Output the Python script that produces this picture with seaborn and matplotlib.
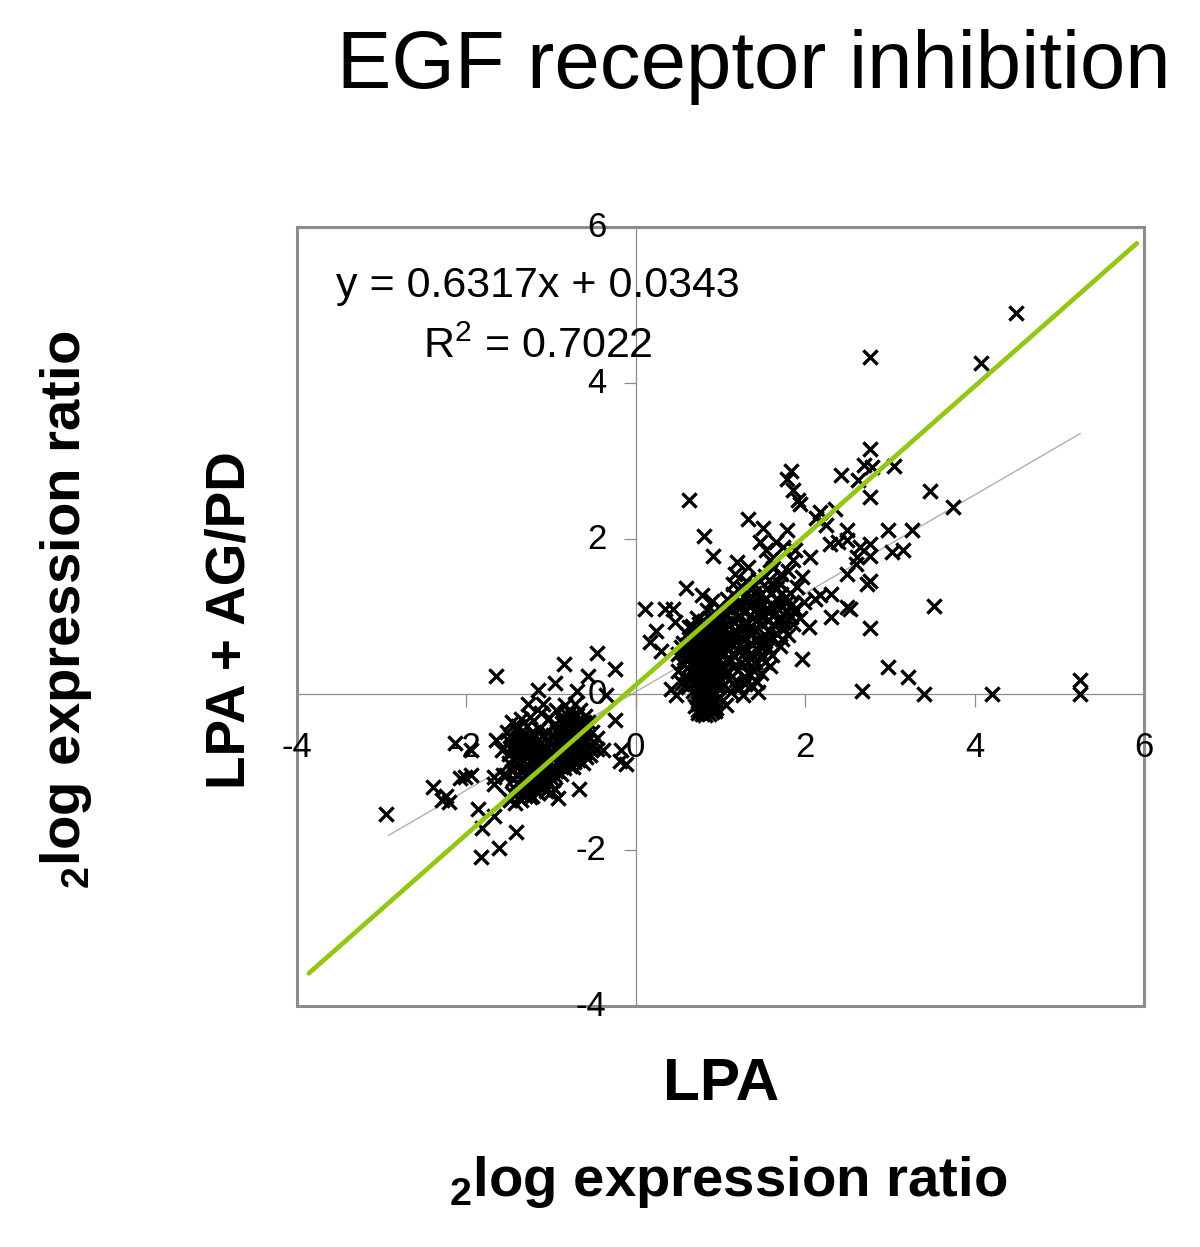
import matplotlib
matplotlib.use("Agg")
import matplotlib.pyplot as plt
from matplotlib.patches import Rectangle
from matplotlib.transforms import ScaledTranslation
import seaborn as sns
import pandas as pd

sns.set_theme(style="white")
plt.rcParams['font.family'] = ['Liberation Sans', 'DejaVu Sans']
plt.rcParams['axes.unicode_minus'] = False
plt.rcParams['mathtext.fontset'] = 'custom'
plt.rcParams['mathtext.rm'] = 'Liberation Sans'
plt.rcParams['mathtext.bf'] = 'Liberation Sans:bold'

title = "EGF receptor inhibition"
equation = "y = 0.6317x + 0.0343"
r_squared = "R$^{2}$ = 0.7022"
x_ticks = [-4, -2, 0, 2, 4, 6]
y_ticks = [-4, -2, 0, 2, 4, 6]

fit_x = [-2.92, 5.25]
fit_y = [-1.81, 3.35]
identity_x = [-3.86, 5.915]
identity_y = [-3.58, 5.79]

outlier_points = [
    (4.49,4.90),(4.07,4.25),(2.77,4.33),(2.77,3.15),(2.70,2.94),(2.79,2.92),(2.42,2.82),(2.62,2.75),(3.05,2.93),
    (2.77,2.53),(3.47,2.61),(3.75,2.40),(3.26,2.11),(2.98,2.11),(3.15,1.86),(3.02,1.83),(3.52,1.14),(2.76,0.85),
    (2.98,0.35),(3.21,0.22),(2.67,0.04),(3.40,0.0),(4.2,0.0),(5.25,0.18),(5.25,0.0),(0.63,2.50),
]
upper_points = [
    (1.83,2.87),(1.78,2.76),(1.86,2.62),(1.94,2.45),(1.92,2.49),(2.17,2.34),(2.35,2.38),(2.24,2.17),(2.13,2.26),
    (1.33,2.25),(1.50,2.14),(1.79,2.11),(0.80,2.03),(0.91,1.78),(1.47,1.96),(1.54,1.85),(1.66,1.96),(1.74,1.89),
    (1.88,1.85),(2.06,1.76),(1.86,1.72),(1.19,1.70),(1.33,1.64),(1.17,1.55),(1.15,1.42),(2.49,2.11),(2.49,1.98),
    (2.29,1.93),(2.39,1.96),(2.76,1.93),(2.65,1.89),(2.76,1.78),(2.61,1.76),(2.6,1.68),(2.49,1.55),(2.73,1.42),
    (1.96,1.51),(2.31,1.29),(2.11,1.23),(2.31,1.0),(2.49,1.12),(2.53,1.10),(2.77,1.45),(1.96,0.46),(2.04,0.86),
    (0.59,1.36),(0.11,1.10),(0.34,1.10),(0.44,1.10),(0.78,1.27),(0.24,0.81),(0.17,0.67),(0.30,0.56),(0.46,0.93),
    (2.18,1.28),(1.98,1.18),(1.62,1.62),(1.72,1.55),(1.80,1.58),(1.58,1.72),(1.44,1.48),(1.52,1.52),(1.90,1.38),
    (1.70,1.42),(1.82,1.30),(1.60,1.30),(1.40,1.30),(1.30,1.45),(1.24,1.32),(0.90,1.20),(0.98,1.12),(1.08,1.22),
]
right_cluster = [
    (0.78,-0.25),(0.82,-0.27),(0.86,-0.25),(0.74,-0.20),(0.90,-0.22),(0.80,-0.18),(0.70,-0.15),(0.95,-0.18),
    (0.84,-0.12),(0.76,-0.08),(0.88,-0.05),(0.72,-0.03),(0.80,0.00),(0.92,0.02),(0.68,0.05),(0.84,0.06),
    (0.76,0.10),(0.62,0.10),(0.42,0.07),(0.48,-0.01),(1.07,-0.14),(0.99,-0.03),(1.27,-0.01),(1.44,0.03),
    (1.43,0.16),(1.33,0.27),(1.58,0.37),(1.12,0.03),(1.22,0.08),(1.36,0.12),(0.55,0.14),(0.58,0.22),
    (0.50,0.30),(0.64,0.30),(0.72,0.18),(0.80,0.22),(0.88,0.16),(0.96,0.10),(1.04,0.12),(1.10,0.20),
    (1.18,0.18),(1.28,0.22),(1.40,0.30),(1.48,0.28),(1.52,0.42),(0.54,0.40),(0.62,0.44),(0.70,0.36),
    (0.78,0.32),(0.86,0.30),(0.94,0.26),(1.00,0.34),(1.08,0.30),(1.16,0.36),(1.24,0.40),(1.32,0.42),
    (0.50,0.52),(0.58,0.56),(0.66,0.52),(0.74,0.46),(0.82,0.42),(0.90,0.40),(0.98,0.46),(1.06,0.44),
    (1.14,0.52),(1.22,0.54),(1.30,0.56),(1.38,0.50),(1.46,0.56),(1.56,0.60),(0.56,0.66),(0.64,0.66),
    (0.72,0.60),(0.80,0.56),(0.88,0.52),(0.96,0.58),(1.04,0.62),(1.12,0.66),(1.20,0.68),(1.28,0.70),
    (1.36,0.66),(1.44,0.70),(1.52,0.76),(1.62,0.72),(1.70,0.62),(0.60,0.78),(0.68,0.76),(0.76,0.70),
    (0.84,0.66),(0.92,0.70),(1.00,0.74),(1.08,0.78),(1.16,0.82),(1.24,0.84),(1.32,0.80),(1.40,0.84),
    (1.48,0.90),(1.56,0.94),(1.64,0.88),(1.74,0.84),(1.80,0.76),(1.86,0.90),(0.66,0.88),(0.74,0.84),
    (0.82,0.80),(0.90,0.84),(0.98,0.88),(1.06,0.92),(1.14,0.96),(1.22,0.98),(1.30,0.94),(1.38,0.98),
    (1.46,1.04),(1.54,1.08),(1.62,1.02),(1.70,1.00),(1.78,1.06),(1.88,1.10),(1.94,0.98),(0.72,0.98),
    (0.80,0.94),(0.88,0.98),(0.96,1.02),(1.04,1.06),(1.12,1.10),(1.20,1.12),(1.28,1.08),(1.36,1.14),
    (1.44,1.18),(1.52,1.22),(1.60,1.16),(1.68,1.20),(1.76,1.24),(1.84,1.16),(0.84,1.08),(0.70,0.50),
    (0.74,0.58),(0.78,0.64),(0.82,0.50),(0.86,0.60),(0.70,0.68),(0.76,0.40),(0.80,0.46),(0.84,0.36),
    (0.88,0.44),(0.72,0.28),(0.78,0.14),(0.82,0.28),(0.86,0.10),(0.74,0.04),(0.90,0.12),(0.68,0.42),
    (0.92,0.54),(0.94,0.34),(0.66,0.60),(0.64,0.20),(0.60,0.34),(0.96,0.62),(0.98,0.20),(1.02,0.52),
    (0.90,-0.10),(0.82,-0.20),(0.78,-0.10),(0.86,-0.16),(0.74,-0.12),(0.94,-0.08),(0.96,0.70),(1.10,0.58),
]
right_cluster_extra = [
    (0.57,0.47),(0.61,0.63),(0.67,0.27),(0.71,0.81),(0.73,0.11),(0.75,0.53),(0.77,0.37),(0.79,0.73),
    (0.81,0.09),(0.83,0.59),(0.85,0.47),(0.87,0.77),(0.89,0.23),(0.91,0.63),(0.93,0.43),(0.95,0.79),
    (0.97,0.13),(0.99,0.55),(1.01,0.37),(1.03,0.83),(1.05,0.23),(1.07,0.67),(1.09,0.41),(1.11,0.89),
    (0.53,0.61),(0.59,0.13),(0.63,0.87),(0.69,0.13),(0.65,0.39),(0.75,0.91),(0.79,0.27),(0.83,0.87),
    (0.87,0.37),(0.91,0.93),(0.95,0.47),(0.99,0.97),(1.03,0.31),(1.07,1.01),(1.11,0.45),(1.15,0.73),
    (0.73,0.33),(0.77,0.51),(0.81,0.67),(0.85,0.21),(0.89,0.57),(0.79,0.41),(0.75,0.67),(0.71,0.43),
    (0.83,0.17),(0.87,-0.09),(0.79,-0.23),(0.91,-0.15),(0.77,-0.02),(0.85,-0.02),(0.93,-0.21),(0.73,-0.24),
    (1.17,0.11),(1.21,0.31),(1.25,0.59),(1.29,0.13),(1.33,0.49),(1.37,0.77),(1.41,0.41),(1.45,0.63),
    (1.49,0.47),(1.53,0.69),(1.57,0.83),(1.61,0.51),(1.65,0.79),(1.69,0.93),(1.73,0.71),(1.77,1.17),
    (1.19,0.75),(1.23,1.11),(1.27,0.89),(1.31,1.21),(1.35,0.87),(1.39,1.07),(1.43,0.95),(1.47,1.27),
    (1.51,1.01),(1.55,1.37),(1.59,1.07),(1.63,1.41),(1.67,1.11),(1.71,1.29),(1.75,0.93),(1.83,0.99),
    (1.15,1.29),(1.21,1.19),(1.27,1.37),(1.35,1.23),(1.41,1.41),(1.49,1.13),(1.57,1.47),(1.65,1.35),
]
left_points = [
    (-2.95,-1.54),(-1.65,0.24),(-0.85,0.39),(-0.46,0.53),(-0.24,0.32),(-0.56,0.24),(-0.95,0.14),(-1.16,0.06),
    (-0.70,0.05),(-0.35,-0.01),(-1.27,-0.12),(-1.09,-0.12),(-0.25,-0.33),(-2.14,-0.62),(-1.94,-0.72),(-1.65,-0.58),
    (-0.39,-0.72),(-0.18,-0.72),(-0.19,-0.85),(-0.11,-0.89),(-2.39,-1.19),(-1.94,-1.04),(-2.08,-1.07),(-2.02,-1.06),
    (-2.24,-1.30),(-2.29,-1.36),(-2.20,-1.38),(-1.86,-1.47),(-1.68,-1.56),(-1.82,-1.72),(-1.41,-1.76),(-1.61,-1.97),
    (-1.83,-2.09),(-0.67,-1.22),(-0.92,-1.33),(-0.74,-0.93),(-1.68,-1.06),(-1.68,-1.15),(-1.57,-1.04),(-1.49,-1.36),
    (-1.43,-1.40),(-1.25,-1.32),(-1.02,-1.15),
]
left_cluster = [
    (-1.46,-0.36),(-1.36,-0.32),(-1.28,-0.40),(-1.52,-0.48),(-1.42,-0.46),(-1.32,-0.52),(-1.22,-0.48),(-1.12,-0.24),
    (-1.02,-0.30),(-0.94,-0.20),(-0.84,-0.14),(-0.78,-0.22),(-0.72,-0.12),(-0.66,-0.20),(-0.60,-0.28),(-0.88,-0.30),
    (-0.80,-0.34),(-0.74,-0.28),(-0.68,-0.34),(-0.62,-0.42),(-0.56,-0.36),(-0.52,-0.48),(-0.46,-0.56),(-0.96,-0.40),
    (-0.88,-0.44),(-0.82,-0.42),(-0.76,-0.46),(-0.70,-0.50),(-0.64,-0.56),(-0.58,-0.60),(-0.52,-0.66),(-0.46,-0.70),
    (-1.14,-0.44),(-1.06,-0.48),(-0.98,-0.52),(-0.92,-0.58),(-0.84,-0.56),(-0.78,-0.60),(-0.72,-0.64),(-0.66,-0.70),
    (-0.60,-0.74),(-0.54,-0.78),(-1.50,-0.60),(-1.44,-0.58),(-1.38,-0.62),(-1.30,-0.60),(-1.24,-0.64),(-1.16,-0.60),
    (-1.08,-0.66),(-1.00,-0.64),(-0.94,-0.70),(-0.86,-0.72),(-0.80,-0.74),(-0.74,-0.80),(-0.68,-0.84),(-0.62,-0.88),
    (-1.58,-0.72),(-1.50,-0.76),(-1.44,-0.72),(-1.38,-0.76),(-1.32,-0.72),(-1.26,-0.78),(-1.18,-0.74),(-1.10,-0.78),
    (-1.04,-0.76),(-0.96,-0.82),(-0.90,-0.84),(-0.84,-0.88),(-0.78,-0.92),(-1.50,-0.88),(-1.44,-0.84),(-1.38,-0.90),
    (-1.32,-0.86),(-1.26,-0.92),(-1.20,-0.86),(-1.14,-0.90),(-1.08,-0.92),(-1.00,-0.94),(-0.94,-0.98),(-0.88,-1.02),
    (-1.46,-0.98),(-1.40,-1.02),(-1.34,-0.98),(-1.28,-1.04),(-1.22,-1.00),(-1.16,-1.04),(-1.10,-1.06),(-1.04,-1.04),
    (-0.98,-1.10),(-1.40,-1.14),(-1.34,-1.10),(-1.28,-1.16),(-1.22,-1.12),(-1.16,-1.18),(-1.10,-1.16),(-1.06,-1.24),
    (-1.46,-1.26),(-1.40,-1.24),(-1.34,-1.28),(-1.28,-1.24),(-1.22,-1.30),(-1.16,-1.26),(-1.52,-1.32),(-1.36,-1.36),
    (-1.30,-0.80),(-1.24,-0.70),(-1.36,-0.68),(-1.42,-0.80),(-1.20,-0.96),(-1.30,-0.94),(-1.12,-0.98),(-0.90,-0.64),
    (-0.84,-0.64),(-0.78,-0.52),(-0.72,-0.72),(-0.66,-0.62),(-0.60,-0.50),(-0.86,-0.80),(-1.12,-0.70),(-1.06,-0.86),
]
left_cluster_extra = [
    (-1.47,-0.67),(-1.41,-0.93),(-1.35,-0.55),(-1.33,-1.19),(-1.29,-0.69),(-1.27,-0.99),(-1.23,-0.57),(-1.21,-0.83),
    (-1.19,-1.21),(-1.17,-0.67),(-1.15,-0.81),(-1.13,-1.09),(-1.11,-0.53),(-1.09,-0.97),(-1.07,-0.71),(-1.05,-1.13),
    (-1.03,-0.59),(-1.01,-0.87),(-0.99,-0.73),(-0.97,-1.03),(-0.93,-0.47),(-0.91,-0.91),(-0.89,-0.55),(-0.87,-0.37),
    (-0.85,-0.95),(-0.83,-0.49),(-0.81,-0.81),(-0.79,-0.29),(-0.77,-0.69),(-0.75,-0.39),(-0.73,-0.87),(-0.71,-0.57),
    (-0.69,-0.27),(-0.67,-0.77),(-0.65,-0.47),(-0.63,-0.67),(-0.61,-0.35),(-0.59,-0.81),(-0.57,-0.53),(-0.55,-0.69),
    (-1.39,-0.41),(-1.25,-0.29),(-1.31,-1.31),(-1.45,-1.09),(-1.53,-1.03),(-1.49,-0.53),(-0.95,-1.21),(-1.01,-1.27),
]

points = outlier_points + upper_points + right_cluster + right_cluster_extra + left_points + left_cluster + left_cluster_extra
df = pd.DataFrame(points, columns=["LPA", "LPA + AG/PD"])

fig = plt.figure(figsize=(12, 12.47), dpi=100, facecolor="white")
ax = fig.add_axes([297/1200, 1-1006/1247, (1144-297)/1200, (1006-227)/1247])

sns.lineplot(x=fit_x, y=fit_y, color="#b0b0b0", linewidth=1.0, errorbar=None, ax=ax, zorder=1)
sns.scatterplot(data=df, x="LPA", y="LPA + AG/PD", marker="x", color="black", s=105, linewidth=2.4, ax=ax, zorder=3)
sns.lineplot(x=identity_x, y=identity_y, color="#93c615", linewidth=3.4, errorbar=None, ax=ax, zorder=4)

ax.set_xlim(-4, 6)
ax.set_ylim(-4, 6)
ax.set_xlabel("")
ax.set_ylabel("")
ax.set_xticks(x_ticks)
ax.set_yticks(y_ticks)
for s in ["top", "right"]:
    ax.spines[s].set_visible(False)
for s in ["left", "bottom"]:
    ax.spines[s].set_position(("data", 0))
    ax.spines[s].set_color("#8c8c8c")
    ax.spines[s].set_linewidth(0.9)
ax.tick_params(axis="x", direction="out", length=9, width=0.9, color="#8c8c8c", pad=17, labelsize=25, labelcolor="black", bottom=True)
ax.tick_params(axis="y", direction="out", length=9, width=0.9, color="#8c8c8c", pad=12, labelsize=25, labelcolor="black", left=True)
# frame sits under the tick labels so the hyphen of the lowest label stays visible
ax.add_patch(Rectangle((0, 0), 1, 1, transform=ax.transAxes, fill=False, ec="#8c8c8c", lw=2.2, clip_on=False, zorder=0.5))
ax.set_axisbelow(False)
shift_up = ScaledTranslation(0, 3/100, fig.dpi_scale_trans)
for lab in ax.get_yticklabels():
    lab.set_transform(lab.get_transform() + shift_up)

def px(x, y):
    return x/1200, 1-y/1247

fig.text(*px(754, 67), title, fontsize=58.7, ha="center", va="center", color="black")
fig.text(*px(538, 286), equation, fontsize=31, ha="center", va="center", color="black")
fig.text(*px(538, 347), r_squared, fontsize=31, ha="center", va="center", color="black")
fig.text(*px(231, 620), "LPA + AG/PD", fontsize=39.5, fontweight="bold", rotation=90, ha="center", va="center", color="black")
fig.text(*px(66, 610), r"$_{\mathbf{2}}$log expression ratio", fontsize=40.5, fontweight="bold", rotation=90, ha="center", va="center", color="black")
fig.text(*px(721, 1085), "LPA", fontsize=43.5, fontweight="bold", ha="center", va="center", color="black")
fig.text(*px(728, 1182), r"$_{\mathbf{2}}$log expression ratio", fontsize=40.5, fontweight="bold", ha="center", va="center", color="black")

fig.savefig("out.png", dpi=100, facecolor="white")
